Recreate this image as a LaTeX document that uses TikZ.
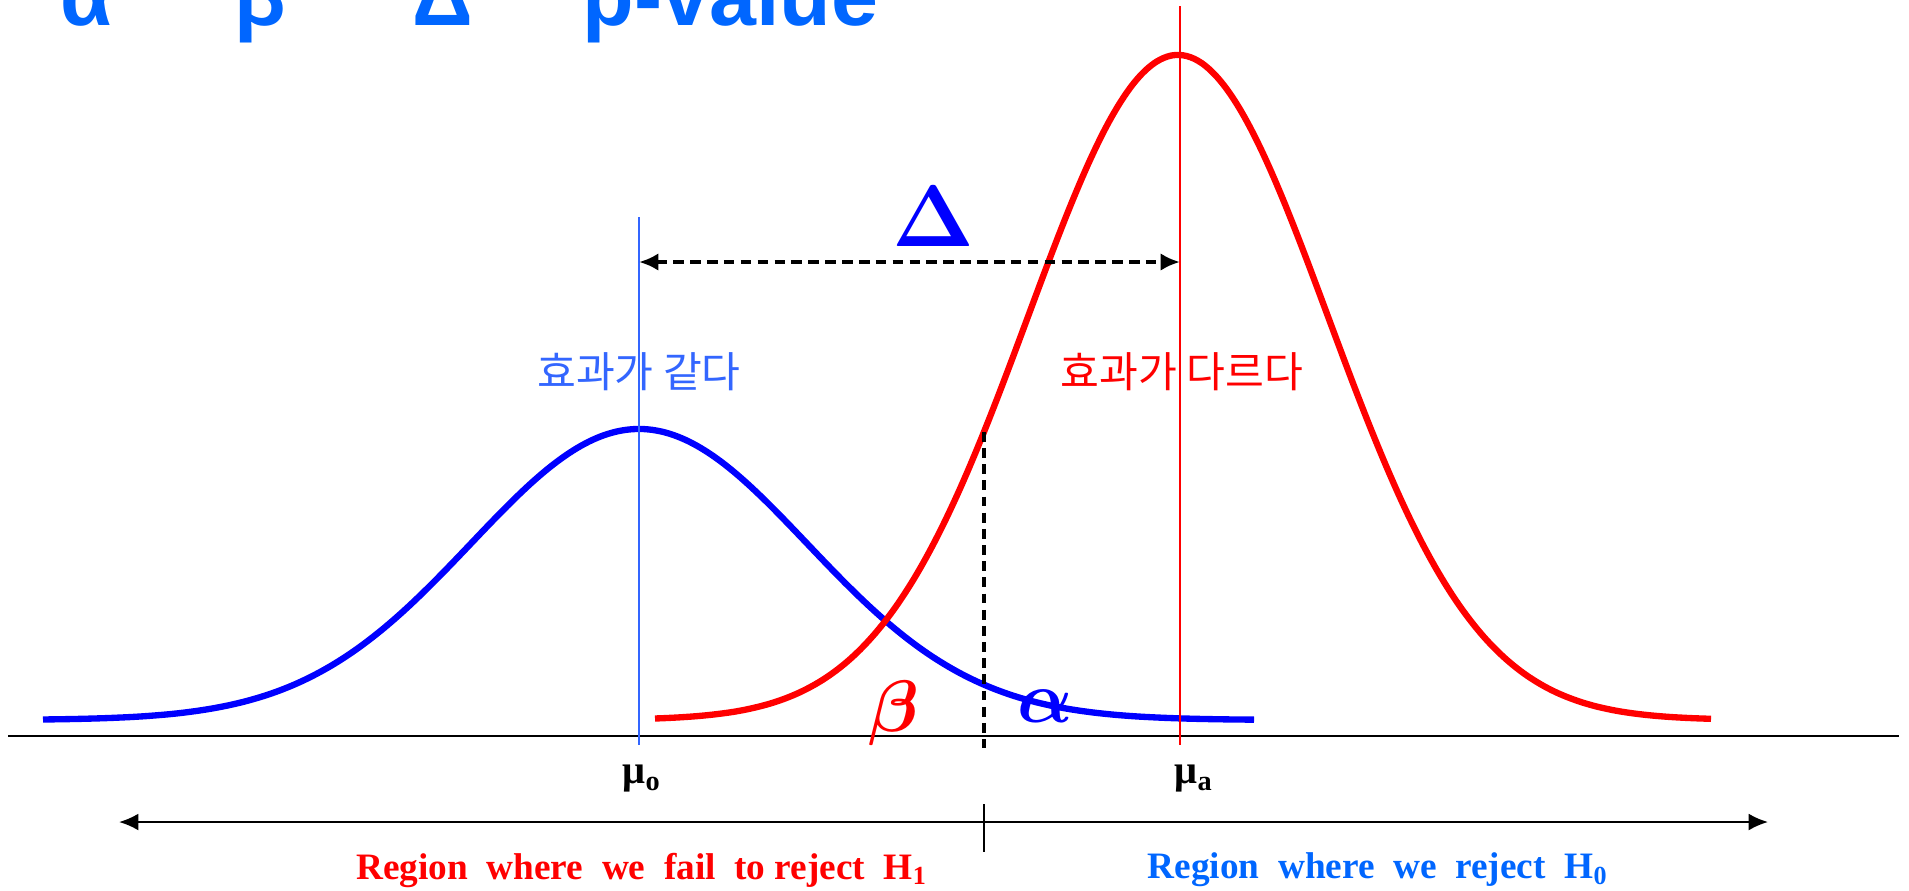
\documentclass[tikz,border=0pt]{standalone}
\usepackage{amsmath}
\usepackage[no-math]{fontspec}
\setmainfont{Liberation Serif}
\newfontfamily\titlefont{Liberation Sans}
\newfontfamily\kfont{Noto Sans CJK KR}
\usetikzlibrary{arrows.meta}
\definecolor{titleblue}{RGB}{0,102,255}
\definecolor{labelblue}{RGB}{51,102,255}
\definecolor{curveblue}{RGB}{0,0,255}
\definecolor{curvered}{RGB}{255,0,0}

\begin{document}
\begin{tikzpicture}[x=0.01cm, y=-0.01cm,
title/.style={font=\titlefont\bfseries\fontsize{24}{28}\selectfont, text=titleblue, anchor=base west, inner sep=0pt},
klabel/.style={font=\kfont\fontsize{12}{14}\selectfont, inner sep=0pt},
mulabel/.style={font=\bfseries\fontsize{11.5}{13}\selectfont, inner sep=0pt},
region/.style={font=\bfseries\fontsize{10.6}{12}\selectfont, inner sep=0pt},
greek/.style={inner sep=0pt},
curve/.style={line width=1.8pt},
guide/.style={line width=0.45pt},
axis/.style={line width=0.6pt, draw=black},
darrow/.style={{Latex[length=5.5pt,width=5pt]}-{Latex[length=5.5pt,width=5pt]}, line width=1.1pt, dash pattern=on 3pt off 1.8pt},
rarrow/.style={{Latex[length=5.5pt,width=4.8pt]}-{Latex[length=5.5pt,width=4.8pt]}, line width=0.6pt},
cutline/.style={line width=1.1pt, dash pattern=on 2.8pt off 1.8pt}
]
\useasboundingbox (0,0) rectangle (1909,890);

\node[title] (tA) at (60,25) {α};
\node[title] (tB) at (234,25) {β};
\node[title] (tD) at (412,25) {Δ};
\node[title] (tP) at (582,25) {p-value};

\coordinate (ax1) at (8,736);
\coordinate (ax2) at (1899,736);
\draw[axis] (ax1) -- (ax2);

\draw[curve, draw=curveblue] plot[domain=43:1254, samples=140, smooth]
  (\x,{720-291*exp(-((\x-639)/168)^2/2)});
\draw[curve, draw=curvered] plot[domain=655:1711, samples=140, smooth]
  (\x,{720-665*exp(-((\x-1178)/150)^2/2)});

\coordinate (m0top) at (639,217);
\coordinate (m0bot) at (639,745);
\coordinate (matop) at (1180,6);
\coordinate (mabot) at (1180,745);
\draw[guide, draw=labelblue] (m0top) -- (m0bot);
\draw[guide, draw=curvered] (matop) -- (mabot);

\coordinate (dl) at (639,262);
\coordinate (dr) at (1180,262);
\draw[darrow] (dl) -- (dr);
\node[font=\fontsize{26}{30}\selectfont, text=curveblue, inner sep=0pt] (delta) at (934,216) {$\mathbf{\Delta}$};

\node[klabel, text=labelblue] (same) at (639,372) {효과가 같다};
\node[klabel, text=curvered] (differ) at (1182,372) {효과가 다르다};

\coordinate (cut) at (984,{720-665*exp(-((984-1178)/150)^2/2)});
\coordinate (cutbot) at (984,748);
\draw[cutline] (cut) -- (cutbot);

\node[greek, text=curvered, font=\fontsize{21}{23}\selectfont] (beta) at (894,713) {$\boldsymbol{\beta}$};
\node[greek, text=curveblue, font=\fontsize{20}{22}\selectfont] (alpha) at (1045,706) {$\boldsymbol{\alpha}$};

\node[mulabel] (mu0) at (642,779) {μ\textsubscript{o}};
\node[mulabel] (mua) at (1194,779) {μ\textsubscript{a}};

\coordinate (rl) at (119,822);
\coordinate (rr) at (1768,822);
\draw[rarrow] (rl) -- (rr);
\coordinate (tk1) at (984,804);
\coordinate (tk2) at (984,852);
\draw[line width=0.6pt] (tk1) -- (tk2);

\node[region, text=curvered] (fail) at (642,870) {Region\ \ where\ \ we\ \ fail\ \ to reject\ \ H\textsubscript{1}};
\node[region, text=titleblue] (reject) at (1378,870) {Region\ \ where\ \ we\ \ reject\ \ H\textsubscript{0}};

\end{tikzpicture}
\end{document}
